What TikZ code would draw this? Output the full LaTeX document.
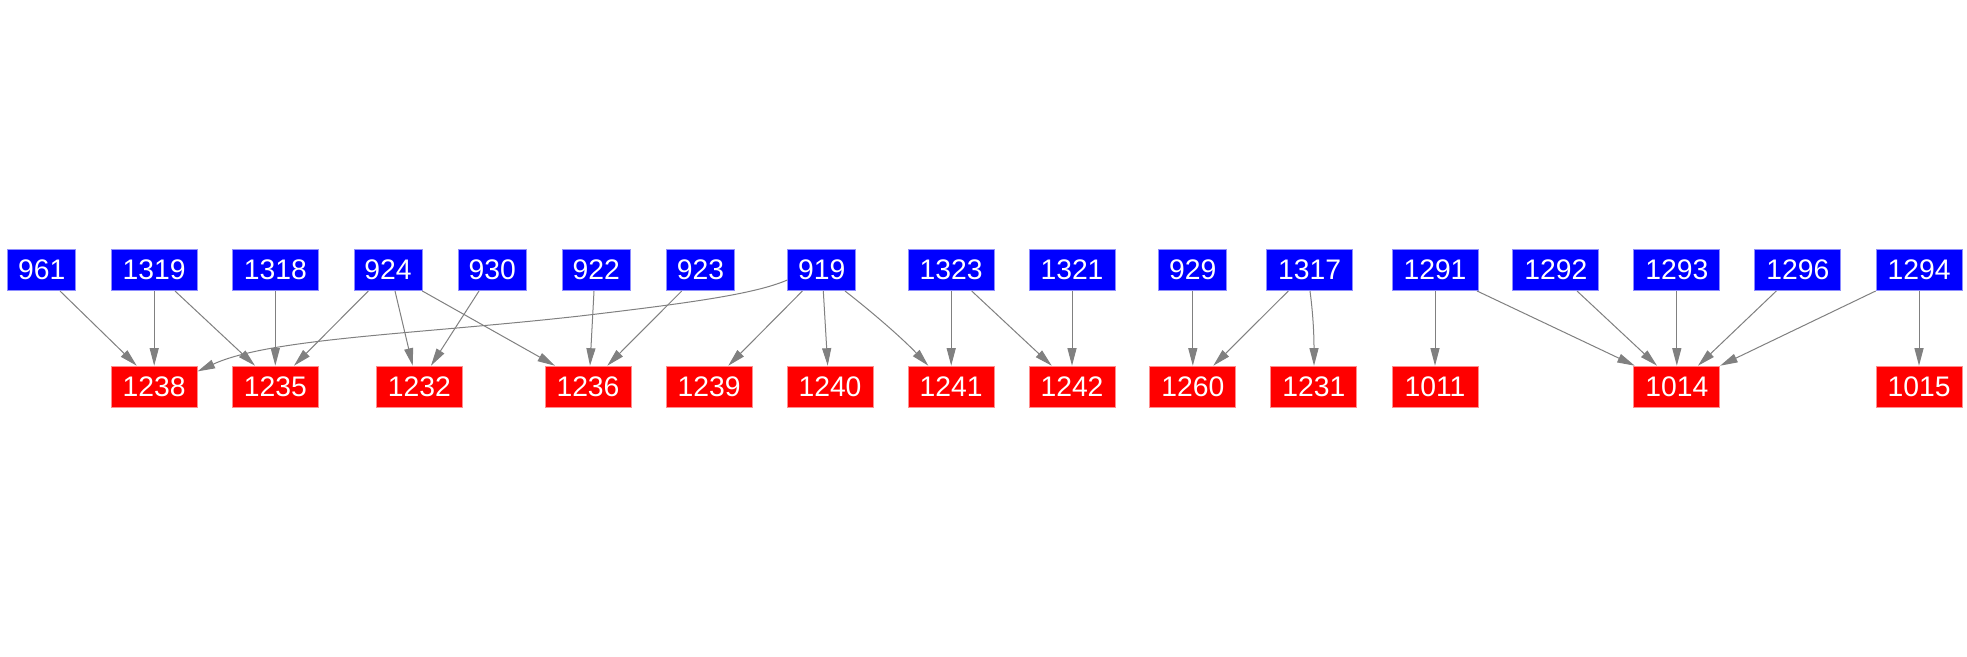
\documentclass[tikz,border=0pt]{standalone}
\usepackage{fontspec}
\setmainfont{Liberation Sans}
\usetikzlibrary{arrows.meta,calc}
\definecolor{edgegray}{RGB}{128,128,128}
\begin{document}
\begin{tikzpicture}[x=1pt,y=-1pt,
  nd/.style={inner sep=0pt, minimum height=41.3pt, minimum width=86pt, text=white,
    font=\fontsize{28.3}{33}\selectfont, line width=0.7pt},
  src/.style={nd, fill=blue, draw=blue!45!white},
  dst/.style={nd, fill=red, draw=red!45!white},
  w3/.style={minimum width=68pt},
  ed/.style={draw=edgegray, line width=1pt, -{Triangle[length=17.5pt,width=9pt]}}
]
\fill[white] (0,0) rectangle (1967,656);
\useasboundingbox (0,0) rectangle (1967,656);

% sources (top row)
\node[src,w3] (n961)  at (41.7,270)   {961};
\node[src]    (n1319) at (154.2,270)  {1319};
\node[src]    (n1318) at (275.3,270)  {1318};
\node[src,w3] (n924)  at (388,270)    {924};
\node[src,w3] (n930)  at (492.2,270)  {930};
\node[src,w3] (n922)  at (596.3,270)  {922};
\node[src,w3] (n923)  at (700.5,270)  {923};
\node[src,w3] (n919)  at (821.7,270)  {919};
\node[src]    (n1323) at (951.2,270)  {1323};
\node[src]    (n1321) at (1072,270)   {1321};
\node[src,w3] (n929)  at (1192.8,270) {929};
\node[src]    (n1317) at (1309.7,270) {1317};
\node[src]    (n1291) at (1435,270)   {1291};
\node[src]    (n1292) at (1555.8,270) {1292};
\node[src]    (n1293) at (1676.8,270) {1293};
\node[src]    (n1296) at (1797.8,270) {1296};
\node[src]    (n1294) at (1919,270)   {1294};

% targets (bottom row)
\node[dst] (n1238) at (154.2,386.7)  {1238};
\node[dst] (n1235) at (275.3,386.7)  {1235};
\node[dst] (n1232) at (419.3,386.7)  {1232};
\node[dst] (n1236) at (588,386.7)    {1236};
\node[dst] (n1239) at (709.2,386.7)  {1239};
\node[dst] (n1240) at (830,386.7)    {1240};
\node[dst] (n1241) at (951.2,386.7)  {1241};
\node[dst] (n1242) at (1072,386.7)   {1242};
\node[dst] (n1260) at (1192.8,386.7) {1260};
\node[dst] (n1231) at (1313.8,386.7) {1231};
\node[dst] (n1011) at (1435,386.7)   {1011};
\node[dst] (n1014) at (1676.8,386.7) {1014};
\node[dst] (n1015) at (1919,386.7)   {1015};

% edges
\draw[ed] ($(n961.south)+(18.3,0)$) -- ($(n1238.north)+(-17.5,0)$);
\draw[ed] (n1319.south) -- (n1238.north);
\draw[ed] ($(n1319.south)+(20.8,0)$) -- ($(n1235.north)+(-20.3,0)$);
\draw[ed] (n1318.south) -- (n1235.north);
\draw[ed] ($(n924.south)+(-19.7,0)$) -- ($(n1235.north)+(18.7,0)$);
\draw[ed] ($(n924.south)+(7,0)$) -- ($(n1232.north)+(-6.6,0)$);
\draw[ed] (n924.south east) -- ($(n1236.north)+(-33,0)$);
\draw[ed] ($(n930.south)+(-13.2,0)$) -- ($(n1232.north)+(11.7,0)$);
\draw[ed] ($(n922.south)+(-2.3,0)$) -- ($(n1236.north)+(2,0)$);
\draw[ed] ($(n923.south)+(-18.8,0)$) -- ($(n1236.north)+(19.3,0)$);
\draw[ed] ($(n919.west)+(0,10)$) .. controls (755,294) and (690,303) .. (580,316)
  .. controls (420,334) and (270,338) .. ($(n1238.north east)+(0,5.7)$);
\draw[ed] ($(n919.south)+(-19.3,0)$) -- ($(n1239.north)+(19.1,0)$);
\draw[ed] ($(n919.south)+(1.6,0)$) -- ($(n1240.north)+(-2.3,0)$);
\draw[ed] ($(n919.south)+(23.3,0)$) .. controls (872,312) and (902,338) .. ($(n1241.north)+(-22.9,0)$);
\draw[ed] (n1323.south) -- (n1241.north);
\draw[ed] ($(n1323.south)+(20.5,0)$) -- ($(n1242.north)+(-20.3,0)$);
\draw[ed] (n1321.south) -- (n1242.north);
\draw[ed] (n929.south) -- (n1260.north);
\draw[ed] ($(n1317.south)+(-21.4,0)$) -- ($(n1260.north)+(20.5,0)$);
\draw[ed] ($(n1317.south)+(0.3,0)$) .. controls (1312.5,310) and (1314,330) .. ($(n1231.north)+(0.2,0)$);
\draw[ed] (n1291.south) -- (n1011.north);
\draw[ed] ($(n1291.south east)+(-1.3,0)$) -- ($(n1014.north west)+(1.3,0)$);
\draw[ed] ($(n1292.south)+(21.2,0)$) -- ($(n1014.north)+(-19.8,0)$);
\draw[ed] (n1293.south) -- (n1014.north);
\draw[ed] ($(n1296.south)+(-21.5,0)$) -- ($(n1014.north)+(21.2,0)$);
\draw[ed] (n1294.south west) -- (n1014.north east);
\draw[ed] (n1294.south) -- (n1015.north);
\end{tikzpicture}
\end{document}
